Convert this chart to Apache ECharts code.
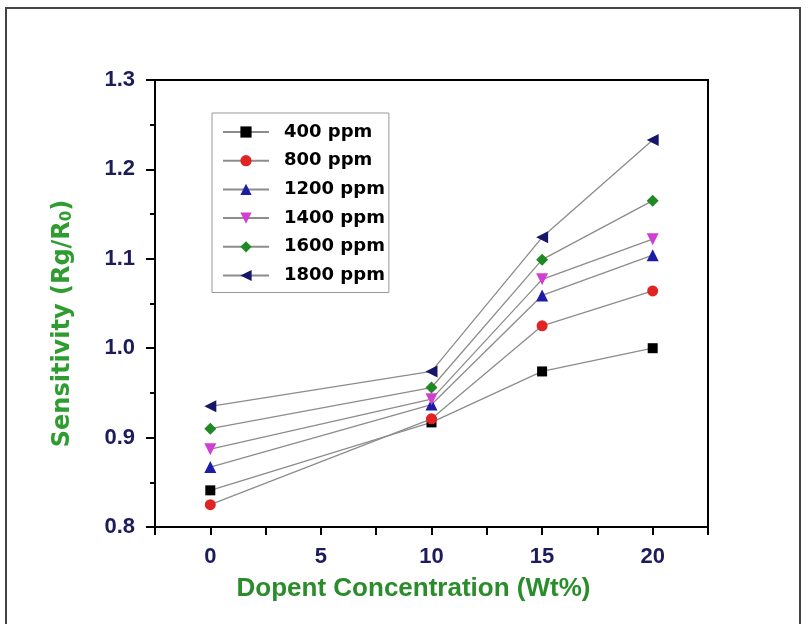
<!DOCTYPE html>
<html><head><meta charset="utf-8">
<script src="https://cdn.jsdelivr.net/npm/echarts@6/dist/echarts.min.js"></script>
<style>html,body{margin:0;padding:0;background:#fff}#c{width:809px;height:624px}</style>
</head><body><div id="c"></div>
<script>
const concentrations = [0, 10, 15, 20];
const seriesNames = ['400 ppm','800 ppm','1200 ppm','1400 ppm','1600 ppm','1800 ppm'];
const s400  = [0.841, 0.917, 0.974, 1.000];
const s800  = [0.825, 0.921, 1.025, 1.064];
const s1200 = [0.867, 0.937, 1.059, 1.104];
const s1400 = [0.887, 0.943, 1.077, 1.122];
const s1600 = [0.910, 0.956, 1.099, 1.165];
const s1800 = [0.935, 0.974, 1.124, 1.233];
const allValues = [s400, s800, s1200, s1400, s1600, s1800];
const symbols = ['rect','circle','triangle','path://M0,0 L10,0 L5,9 Z','diamond','path://M9,0 L9,10 L0,5 Z'];
const colors = ['#000000','#e02424','#1c1ca8','#d23ed2','#1f8a24','#16166a'];
const sizes = [10, 11, 12, 12, 12, 12];

const chart = echarts.init(document.getElementById('c'));
const series = seriesNames.map((n, i) => ({
  name: n, type: 'line',
  data: concentrations.map((x, j) => [x, allValues[i][j]]),
  symbol: symbols[i], symbolSize: sizes[i],
  lineStyle: {color: '#8c8c8c', width: 1.3},
  itemStyle: {color: colors[i]},
  z: 3 + i
}));
chart.setOption({
  animation: false,
  backgroundColor: '#fff',
  graphic: [{type: 'rect', shape: {x: 6, y: 8, width: 794, height: 660}, style: {fill: 'none', stroke: '#444', lineWidth: 2}}],
  grid: {left: 155, right: 101, top: 80, bottom: 97, show: true, borderColor: '#000', borderWidth: 2},
  legend: {
    orient: 'vertical', left: 212, top: 113, data: seriesNames,
    itemWidth: 46, itemHeight: 14, itemGap: 10.7,
    padding: [10, 4, 8, 10],
    borderColor: '#999', borderWidth: 1,
    textStyle: {fontFamily: 'DejaVu Sans', fontWeight: 'bold', fontSize: 18, color: '#000', lineHeight: 18, padding: [0,0,0,10]}
  },
  xAxis: {
    type: 'value', min: -2.5, max: 22.5, interval: 2.5,
    name: 'Dopent Concentration (Wt%)', nameLocation: 'middle', nameGap: 49,
    nameTextStyle: {fontFamily: 'Liberation Sans', fontWeight: 'bold', fontSize: 26, color: '#2a8c2a', padding: [0, 36, 0, 0]},
    axisLine: {onZero: false, lineStyle: {color: '#000', width: 2}},
    axisTick: {inside: false, length: 8, lineStyle: {color: '#000', width: 2}},
    axisLabel: {margin: 19, fontFamily: 'Liberation Sans', fontWeight: 'bold', fontSize: 22, color: '#1c1c5a',
      formatter: v => (Math.abs(v % 5) < 1e-9 && v >= 0) ? String(v) : ''},
    splitLine: {show: false}
  },
  yAxis: {
    type: 'value', min: 0.8, max: 1.3, interval: 0.1,
    name: 'Sensitivity (Rg/R{s|0})', nameLocation: 'middle', nameGap: 80,
    nameTextStyle: {fontFamily: 'DejaVu Sans', fontWeight: 'bold', fontSize: 24, color: '#2e9c2e', padding: [0, 40, 0, 0],
      rich: {s: {fontFamily: 'DejaVu Sans', fontSize: 15, fontWeight: 'bold', color: '#2e9c2e', verticalAlign: 'bottom', padding: [8,0,0,0]}}},
    axisLine: {onZero: false, lineStyle: {color: '#000', width: 2}},
    axisTick: {inside: false, length: 9, lineStyle: {color: '#000', width: 2}},
    minorTick: {show: true, splitNumber: 2, length: 5, lineStyle: {color: '#000', width: 2}},
    axisLabel: {margin: 20, fontFamily: 'Liberation Sans', fontWeight: 'bold', fontSize: 22, color: '#1c1c5a', formatter: v => v.toFixed(1)},
    splitLine: {show: false}
  },
  series: series
});
</script></body></html>
